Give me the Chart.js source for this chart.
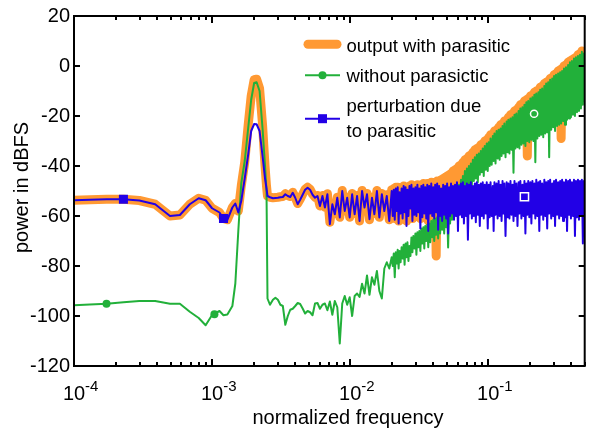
<!DOCTYPE html>
<html>
<head>
<meta charset="utf-8">
<script src="https://cdn.jsdelivr.net/npm/chart.js@4.4.1/dist/chart.umd.min.js"></script>
<style>
  html, body { margin: 0; padding: 0; background: #fff; }
  #wrap { width: 592px; height: 434px; }
</style>
</head>
<body>
<div id="wrap"><canvas id="psd" width="592" height="434"></canvas></div>
<script>
// normalized frequency of every plotted bin
const freq = [
  // smooth part up to the tone
  1.000e-4, 1.302e-4, 1.724e-4, 2.283e-4, 2.972e-4, 3.871e-4, 4.959e-4, 5.848e-4, 6.898e-4, 8.003e-4,
  8.984e-4, 1.000e-3, 1.132e-3, 1.209e-3, 1.291e-3, 1.403e-3, 1.474e-3, 1.549e-3, 1.627e-3, 1.724e-3,
  1.827e-3, 1.920e-3, 2.017e-3, 2.102e-3, 2.209e-3, 2.321e-3, 2.419e-3, 2.479e-3, 2.520e-3, 2.627e-3,
  // mid band
  2.760e-3, 2.876e-3, 2.997e-3, 3.124e-3, 3.255e-3, 3.393e-3, 3.536e-3, 3.685e-3, 3.840e-3, 4.002e-3,
  4.171e-3, 4.346e-3, 4.530e-3, 4.720e-3, 4.919e-3, 5.127e-3, 5.343e-3, 5.568e-3, 5.802e-3, 6.047e-3,
  6.302e-3, 6.567e-3, 6.844e-3, 7.132e-3, 7.433e-3, 7.746e-3, 8.073e-3, 8.413e-3, 8.767e-3, 9.137e-3,
  9.522e-3, 9.923e-3, 1.034e-2, 1.078e-2, 1.123e-2, 1.170e-2, 1.220e-2, 1.271e-2, 1.325e-2, 1.381e-2,
  1.439e-2, 1.499e-2, 1.563e-2, 1.628e-2, 1.697e-2, 1.769e-2, 1.843e-2, 1.921e-2,
  // dense high band
  0.0200, 0.02035, 0.0207, 0.02105, 0.0214, 0.02175, 0.0221, 0.02245, 0.0228, 0.0232,
  0.0236, 0.0240, 0.0244, 0.0248, 0.0252, 0.0256, 0.0260, 0.02645, 0.0269, 0.02735,
  0.0278, 0.02825, 0.0287, 0.0292, 0.0297, 0.0302, 0.0307, 0.0312, 0.0317, 0.03225,
  0.0328, 0.03335, 0.0339, 0.03445, 0.0350, 0.0356, 0.0362, 0.0368, 0.0374, 0.03805,
  0.0387, 0.03935, 0.0400, 0.04065, 0.0413, 0.0420, 0.0427, 0.0434, 0.0441, 0.04485,
  0.0456, 0.0464, 0.0472, 0.0480, 0.0488, 0.0496, 0.0504, 0.05125, 0.0521, 0.05295,
  0.0538, 0.0547, 0.0556, 0.05655, 0.0575, 0.05845, 0.0594, 0.0604, 0.0614, 0.06245,
  0.0635, 0.06455, 0.0656, 0.0667, 0.0678, 0.06895, 0.0701, 0.0713, 0.0725, 0.0737,
  0.0749, 0.07615, 0.0774, 0.0787, 0.0800, 0.08135, 0.0827, 0.0841, 0.0855, 0.08695,
  0.0884, 0.08985, 0.0913, 0.09285, 0.0944, 0.0960, 0.0976, 0.09925, 0.1009, 0.1025,
  0.104, 0.106, 0.108, 0.1095, 0.111, 0.113, 0.115, 0.117, 0.119, 0.121,
  0.123, 0.125, 0.127, 0.129, 0.131, 0.1335, 0.136, 0.138, 0.140, 0.1425,
  0.145, 0.1475, 0.150, 0.1525, 0.155, 0.1575, 0.160, 0.163, 0.166, 0.1685,
  0.171, 0.174, 0.177, 0.180, 0.183, 0.186, 0.189, 0.192, 0.195, 0.1985,
  0.202, 0.2055, 0.209, 0.2125, 0.216, 0.2195, 0.223, 0.227, 0.231, 0.2345,
  0.238, 0.242, 0.246, 0.2505, 0.255, 0.259, 0.263, 0.2675, 0.272, 0.2765,
  0.281, 0.286, 0.291, 0.2955, 0.300, 0.305, 0.310, 0.3155, 0.321, 0.3265,
  0.332, 0.3375, 0.343, 0.3485, 0.354, 0.360, 0.366, 0.3725, 0.379, 0.385,
  0.391, 0.3975, 0.404, 0.411, 0.418, 0.425, 0.432, 0.4395, 0.447, 0.4545,
  0.462, 0.4695, 0.477, 0.485, 0.493, 0.4965, 0.500
];

// output with parasitic (dBFS)
const withParasitic = [
  -53.7, -53.5, -53.3, -53.3, -53.8, -55.3, -60, -59.6, -55.3, -52.9,
  -53.7, -56.9, -58.6, -61, -61.5, -56.6, -55, -58, -48, -38.5,
  -23.5, -12, -5.5, -5.3, -9, -23.5, -40, -48, -52, -52.5,
  -52.7, -52.6, -52.5, -52.3, -52.2, -51.1, -51.8, -52.2, -50.5, -52.5,
  -55, -53.3, -51.3, -49.3, -48.5, -49.3, -51.3, -52.5, -51.8, -56,
  -51.8, -56.5, -51.1, -62.5, -55, -59, -52.5, -60.5, -49.8, -58,
  -52.5, -60.5, -51, -59, -51.8, -62, -49.8, -56.5, -51, -61.5,
  -52.5, -59, -49.8, -60.5, -51, -58, -51.5, -61.5,
  -49.5, -59, -49, -61, -48.5, -57.5, -48.5, -62, -50, -58.5,
  -49, -60, -48, -58, -48.5, -62, -49, -59.5, -48, -57,
  -47.5, -61, -48.5, -59, -48, -59.5, -47.5, -58, -48.5, -61,
  -47.5, -60, -47, -58.5, -47.5, -60, -47, -62, -47, -58.5,
  -46.5, -59, -47, -60, -46.5, -76, -46, -62, -46, -59,
  -45.5, -58, -45, -57, -44.5, -56, -44, -55, -43.5, -53,
  -43, -51, -42, -50, -41.5, -49, -41, -48, -40, -47,
  -39.5, -46, -38.5, -45.5, -37.5, -44.5, -37, -44, -36, -43,
  -35.5, -42, -34.5, -41.5, -33.5, -40.5, -33, -40, -32.5, -39.5,
  -31.5, -38.5, -31, -38, -30, -37, -29.5, -36.5, -28.5, -36,
  -27.5, -35, -27, -34.5, -26, -34, -25.5, -33, -24.5, -32.5,
  -23.5, -31.5, -23, -31, -22, -30.5, -21.5, -30, -20.5, -29,
  -19.5, -28.5, -19, -28, -18, -27.5, -17.5, -27, -16.5, -26,
  -15.5, -25.5, -15, -25, -14, -24.5, -13.5, -36, -13, -24,
  -12, -23.5, -11.5, -23, -10.5, -22.5, -10, -22, -9.5, -21,
  -8.5, -21, -8, -20.5, -7, -20, -6.5, -19.5, -6, -19,
  -5, -18.5, -4.5, -18, -3.5, -18, -3, -17.5, -2, -17,
  -1.5, -29, -1, -17, 0, -16.5, 0.5, -16, 1.5, -15.5,
  2, -15, 2.5, -14.5, 3, -14, 3.5, -13.5, 4.5, -13,
  5, -12.5, 6, -12, 5.5, -11.5, 5.5
];

// without parasitic (dBFS)
const withoutParasitic = [
  -95.7, -95.4, -95.1, -94.5, -94.0, -94.0, -95.1, -95.1, -98.3, -100.8,
  -103.7, -99.6, -98, -99.7, -99.4, -96, -87, -66, -47, -38,
  -24.8, -13.5, -6.8, -6.5, -10, -25, -40, -50, -93, -95.5,
  -93.5, -92.7, -93.5, -95.5, -96, -103.5, -100, -97.5, -97.1, -96,
  -94.8, -95.2, -97, -99, -98, -98.5, -99.7, -95, -94.8, -97.1,
  -95.5, -95, -97.7, -94.2, -99.5, -94, -96.5, -111, -95, -92,
  -95.5, -92.5, -100, -92, -91, -92.4, -87.1, -91, -83.8, -91.5,
  -84.5, -87.5, -82, -90, -93, -81, -78.5, -81,
  -76.5, -80, -75, -84.5, -74.5, -79, -73.5, -81, -74, -78.5,
  -72.5, -77, -71.5, -79.5, -71, -76.5, -70.5, -78, -72, -76,
  -68.6, -74.5, -68, -73, -67, -75.5, -66.5, -72.5, -66, -74,
  -65, -71, -64.5, -73, -64, -70, -63.5, -72.5, -63, -70.5,
  -62, -68.5, -61.5, -70, -61, -67.5, -60.5, -69, -60, -67,
  -59, -65.5, -58.5, -67, -57.5, -64.5, -57, -72.6, -56, -63,
  -54, -61.5, -52, -60, -50, -58.5, -49, -57, -47.5, -55,
  -45.5, -53, -44, -52, -42, -50, -41, -49.5, -40, -48,
  -39, -47.5, -37.5, -46, -36.5, -45, -35.5, -46.5, -35, -43.5,
  -34, -42.5, -33, -44, -32, -41.5, -31, -42, -30.5, -40,
  -29, -39.5, -28, -38, -27, -39, -26, -37, -25.5, -37.5,
  -25, -36, -24, -35, -23, -36.5, -22.2, -34.5, -21.5, -35,
  -21, -33.5, -20.5, -42.7, -19.5, -33, -19, -32.5, -18, -33,
  -17, -31.5, -16.5, -31, -15.5, -32, -14.5, -30, -14, -30.5,
  -13, -29.5, -12.5, -30, -11.5, -38.5, -11, -29, -10.5, -28,
  -9.5, -27.5, -9, -28.5, -8, -27, -7, -26.5, -6.5, -36.5,
  -5.5, -25.5, -5, -24.5, -4, -26, -3.5, -24, -3, -23.5,
  -2.5, -23, -2, -22, -1, -23.5, -0.5, -21.5, 0.4, -21,
  1.5, -20.5, 2, -19.5, 3, -20, 3.5, -18.5, 4, -18,
  4.5, -17, 5.7, -15.5, 5, -14, 5.5
];

// perturbation due to parasitic (dBFS)
const perturbation = [
  -53.7, -53.5, -53.3, -53.3, -53.8, -55.3, -60, -59.6, -55.3, -52.9,
  -53.7, -56.9, -58.6, -61, -61.5, -56.6, -55, -58.6, -54, -45,
  -35.4, -26, -23.2, -23.3, -26, -36, -45, -49, -52, -52.5,
  -52.9, -52.8, -52.7, -52.5, -52.4, -51.3, -52.0, -52.4, -50.7, -52.7,
  -55.3, -53.5, -51.5, -49.5, -48.7, -49.5, -51.5, -52.7, -52, -56,
  -52, -56.6, -51.3, -63.3, -55.3, -59.3, -52.7, -60.6, -50, -58,
  -52.7, -60.6, -51.3, -59.3, -52, -62, -50, -56.6, -51.3, -61.3,
  -52.7, -59.3, -50, -60.6, -51.3, -58, -52, -62,
  -50, -60, -49.5, -61.5, -49, -58, -48.5, -63, -50.5, -59,
  -49, -61, -48, -58.5, -48.5, -64, -49.5, -60, -48, -57,
  -47.5, -62, -49, -59.5, -48.5, -60, -47.5, -58.5, -49, -65,
  -48, -60.5, -47.5, -59, -48.5, -61, -47.5, -66, -48, -59,
  -47, -60, -48.5, -61, -47.5, -58.5, -47, -65.5, -48, -60,
  -49, -62, -47.5, -59.5, -48, -61, -47, -67, -48.5, -60,
  -47, -59, -48, -61.5, -47.5, -60, -46.5, -66, -48, -59.5,
  -47, -60.5, -46.5, -63, -48, -60, -47, -69.5, -47.5, -59,
  -46.5, -61, -48, -60, -47, -62.5, -46.5, -59.5, -47.5, -64,
  -47, -60, -46.5, -61, -47.5, -59, -46.5, -65, -47.5, -60.5,
  -46.5, -60, -48, -66, -46.5, -59.5, -47, -61, -46, -60,
  -47.5, -62, -46, -59, -47, -68, -46.5, -60.5, -47, -61,
  -46, -59.5, -47.5, -62, -46, -60, -47, -64, -46.5, -59,
  -46, -61, -47.5, -60, -46, -67, -47, -59.5, -46, -60.5,
  -46.5, -63, -46, -59, -47, -61, -45.5, -60, -46.5, -66,
  -46, -59.5, -47, -61.5, -45.5, -60, -46.5, -65, -46, -59,
  -45.5, -61, -47, -60, -46, -64, -45.5, -59.5, -46.5, -61,
  -46, -60, -45.5, -62, -46.5, -60.5, -45.5, -66, -46, -59.5,
  -45.5, -61, -46.5, -60, -45.5, -68, -46, -60.5, -45.5, -61.5,
  -46, -60, -45.5, -71, -46, -62, -45.5
];

// sparse symbols sitting on the curves
const greenMarkFreq = [1.72e-4, 1.04e-3];
const greenMarkVal = [-95.1, -99.3];
const blueMarkFreq = [2.28e-4, 1.21e-3];
const blueMarkVal = [-53.3, -61];
const openCircleFreq = [0.215];
const openCircleVal = [-19.1];
const openSquareFreq = [0.183];
const openSquareVal = [-52.3];

const xTickExps = [-4, -3, -2, -1];
const yTicks = [20, 0, -20, -40, -60, -80, -100, -120];
const legendLabels = ['output with parasitic', 'without parasictic', ['perturbation due', 'to parasitic']];

const ORANGE = '#FF9933';
const GREEN = '#22B03A';
const BLUE = '#2200E6';
const FONT = '"Liberation Sans", Arial, Helvetica, sans-serif';

const toPoints = (xs, ys) => ys.map((v, i) => ({ x: xs[i], y: v }));

// frame, inward ticks, x labels with exponents, axis titles, legend
const decorations = {
  id: 'decorations',
  afterDraw(chart) {
    const { ctx, chartArea: a, scales: { x, y } } = chart;
    ctx.save();
    ctx.strokeStyle = '#000';
    ctx.fillStyle = '#000';
    ctx.lineWidth = 2;
    ctx.strokeRect(a.left, a.top, a.right - a.left, a.bottom - a.top);

    ctx.beginPath();
    xTickExps.forEach(e => {
      for (let k = 1; k <= 9; k++) {
        const v = k * Math.pow(10, e);
        if (v > 0.5) break;
        const px = Math.round(x.getPixelForValue(v));
        const len = k === 1 ? 7 : 4;
        ctx.moveTo(px, a.bottom); ctx.lineTo(px, a.bottom - len);
        ctx.moveTo(px, a.top); ctx.lineTo(px, a.top + len);
      }
    });
    yTicks.forEach(v => {
      const py = Math.round(y.getPixelForValue(v));
      ctx.moveTo(a.left, py); ctx.lineTo(a.left + 6, py);
      ctx.moveTo(a.right, py); ctx.lineTo(a.right - 6, py);
    });
    ctx.stroke();

    // 10^n labels
    ctx.textBaseline = 'alphabetic';
    ctx.textAlign = 'left';
    xTickExps.forEach(e => {
      const px = x.getPixelForValue(Math.pow(10, e));
      ctx.font = '20px ' + FONT;
      const w = ctx.measureText('10').width;
      ctx.fillText('10', px - w / 2, 400);
      ctx.font = '15px ' + FONT;
      ctx.fillText(String(e), px + w / 2, 390.5);
    });

    // axis titles
    ctx.font = '20px ' + FONT;
    ctx.textAlign = 'center';
    ctx.fillText('normalized frequency', 348, 424);
    ctx.save();
    ctx.translate(27.5, 187.5);
    ctx.rotate(-Math.PI / 2);
    ctx.fillText('power in dBFS', 0, 0);
    ctx.restore();

    // legend
    const x0 = 305, x1 = 340, xm = (x0 + x1) / 2, tx = 346.5;
    ctx.lineCap = 'round';
    ctx.strokeStyle = ORANGE;
    ctx.lineWidth = 9;
    ctx.beginPath(); ctx.moveTo(x0 + 3, 44.3); ctx.lineTo(x1 - 3, 44.3); ctx.stroke();

    ctx.lineCap = 'butt';
    ctx.lineWidth = 2;
    ctx.strokeStyle = GREEN;
    ctx.beginPath(); ctx.moveTo(x0, 75.3); ctx.lineTo(x1, 75.3); ctx.stroke();
    ctx.fillStyle = GREEN;
    ctx.beginPath(); ctx.arc(xm, 75.3, 4, 0, 2 * Math.PI); ctx.fill();

    ctx.strokeStyle = BLUE;
    ctx.beginPath(); ctx.moveTo(x0, 118.7); ctx.lineTo(x1, 118.7); ctx.stroke();
    ctx.fillStyle = BLUE;
    ctx.fillRect(xm - 4.5, 118.7 - 4.5, 9, 9);

    ctx.fillStyle = '#000';
    ctx.font = '18.5px ' + FONT;
    ctx.textAlign = 'left';
    ctx.fillText(legendLabels[0], tx, 51.5);
    ctx.fillText(legendLabels[1], tx, 81.7);
    ctx.fillText(legendLabels[2][0], tx, 112);
    ctx.fillText(legendLabels[2][1], tx, 137);
    ctx.restore();
  }
};

const ctx = document.getElementById('psd').getContext('2d');
new Chart(ctx, {
  type: 'line',
  data: {
    datasets: [
      {
        type: 'scatter', label: 'open circle', order: 0,
        data: toPoints(openCircleFreq, openCircleVal),
        pointStyle: 'circle', pointRadius: 3.6, borderColor: '#fff',
        backgroundColor: 'rgba(0,0,0,0)', borderWidth: 1.5
      },
      {
        type: 'scatter', label: 'open square', order: 0,
        data: toPoints(openSquareFreq, openSquareVal),
        pointStyle: 'rect', pointRadius: 5.8, borderColor: '#fff',
        backgroundColor: 'rgba(0,0,0,0)', borderWidth: 1.5
      },
      {
        type: 'scatter', label: 'green marks', order: 0,
        data: toPoints(greenMarkFreq, greenMarkVal),
        pointStyle: 'circle', pointRadius: 4, backgroundColor: GREEN, borderWidth: 0
      },
      {
        type: 'scatter', label: 'blue marks', order: 0,
        data: toPoints(blueMarkFreq, blueMarkVal),
        pointStyle: 'rect', pointRadius: 6.4, backgroundColor: BLUE, borderWidth: 0
      },
      {
        label: 'perturbation due to parasitic', order: 1,
        data: toPoints(freq, perturbation),
        borderColor: BLUE, borderWidth: 2, pointRadius: 0, tension: 0, borderJoinStyle: 'round'
      },
      {
        label: 'without parasictic', order: 2,
        data: toPoints(freq, withoutParasitic),
        borderColor: GREEN, borderWidth: 2, pointRadius: 0, tension: 0, borderJoinStyle: 'round'
      },
      {
        label: 'output with parasitic', order: 3,
        data: toPoints(freq, withParasitic),
        borderColor: ORANGE, borderWidth: 9, pointRadius: 0, tension: 0, borderJoinStyle: 'round'
      }
    ]
  },
  options: {
    responsive: false,
    animation: false,
    devicePixelRatio: 1,
    events: [],
    layout: { padding: { top: 14, right: 2, left: 0, bottom: 0 } },
    plugins: { legend: { display: false }, tooltip: { enabled: false } },
    scales: {
      x: {
        type: 'logarithmic', min: 1e-4, max: 0.5,
        grid: { display: false, drawTicks: false },
        border: { display: false },
        ticks: { display: false },
        afterFit: s => { s.height = 68; }
      },
      y: {
        min: -120, max: 20,
        grid: { display: false, drawTicks: false },
        border: { display: false },
        ticks: { stepSize: 20, color: '#000', padding: 4, font: { family: FONT, size: 20 } },
        afterFit: s => { s.width = 74; }
      }
    }
  },
  plugins: [decorations]
});
</script>
</body>
</html>
